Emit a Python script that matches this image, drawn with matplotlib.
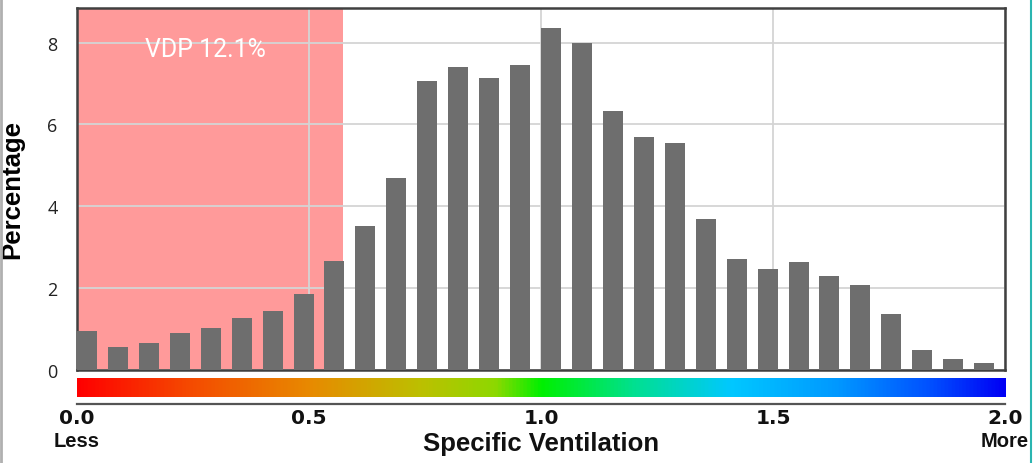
#!/usr/bin/env python3

# Specific ventilation histogram with VDP shading and colour scale.

import matplotlib
matplotlib.use("Agg")
import matplotlib.pyplot as plt
from matplotlib.colors import LinearSegmentedColormap
from matplotlib.lines import Line2D
import numpy as np

# 30 bins of width 2/15 spanning 0.0 - 2.0
bin_lefts = [i * 2.0 / 30 for i in range(30)]
percentages = [0.94, 0.55, 0.66, 0.90, 1.01, 1.25, 1.43, 1.84, 2.65, 3.51,
               4.69, 7.05, 7.40, 7.14, 7.46, 8.36, 7.98, 6.33, 5.69, 5.55,
               3.69, 2.70, 2.47, 2.62, 2.30, 2.06, 1.37, 0.47, 0.26, 0.15]
vdp_limit = 0.573
vdp_label = "VDP 12.1%"
x_ticks = [0.0, 0.5, 1.0, 1.5, 2.0]
x_tick_labels = ["0.0", "0.5", "1.0", "1.5", "2.0"]
y_ticks = [0, 2, 4, 6, 8]

BAR_COLOR = "#6e6e6e"
SPINE_COLOR = "#404040"
GRID_COLOR = "#d4d4d4"

# red -> orange -> yellow -> green -> cyan -> blue
scale = LinearSegmentedColormap.from_list("sv", [
    (0.0, "#ff0000"),
    (0.12, "#f54a00"),
    (0.25, "#e88a00"),
    (0.37, "#bcc000"),
    (0.45, "#8ed800"),
    (0.5, "#00f000"),
    (0.6, "#00e090"),
    (0.705, "#00c8ff"),
    (0.82, "#0098ff"),
    (0.92, "#0050ff"),
    (1.0, "#0000f5"),
])

fig = plt.figure(figsize=(10.35, 4.64), dpi=100)
ax = fig.add_axes([0.0744, 0.2015, 0.8967, 0.7785])

ax.axvspan(0, vdp_limit, color="#ff2020", alpha=0.45, lw=0, zorder=0)
ax.bar(bin_lefts, percentages, width=0.0431, align="edge",
       color=BAR_COLOR, zorder=3)
ax.text(0.276, 7.85, vdp_label, color="white", fontsize=18,
        family="Roboto", ha="center", va="center", zorder=4)

ax.set_xlim(0, 2.0)
ax.set_ylim(0, 8.84)
ax.set_xticks(x_ticks)
ax.set_yticks(y_ticks)
ax.grid(True, color=GRID_COLOR, lw=1.3, zorder=1)
ax.set_axisbelow(True)
ax.tick_params(axis="x", length=0, labelbottom=False)
ax.tick_params(axis="y", length=0, pad=14, labelsize=13, labelcolor="#222222")
ax.set_yticklabels([str(v) for v in y_ticks], family="Open Sans")
for side in ["top", "right", "bottom", "left"]:
    ax.spines[side].set_color(SPINE_COLOR)
    ax.spines[side].set_linewidth(1.8)
ax.set_ylabel("Percentage", fontsize=18.5, fontweight="bold",
              family="Liberation Sans", labelpad=4)
ax.yaxis.set_label_coords(-0.057, 0.5)

# colour scale strip under the histogram
cax = fig.add_axes([0.0744, 0.1422, 0.8967, 0.0409])
# moving the spine resets the ticks, so do it before labelling them
for side in ["top", "right", "left"]:
    cax.spines[side].set_visible(False)
cax.spines["bottom"].set_position(("outward", 5))
cax.spines["bottom"].set_color("#555555")
cax.spines["bottom"].set_linewidth(1.6)

gradient = np.linspace(0, 1, 512).reshape(1, -1)
cax.imshow(gradient, cmap=scale, aspect="auto", extent=[0, 2.0, 0, 1])
cax.set_xlim(0, 2.0)
cax.set_yticks([])
cax.set_xticks(x_ticks)
cax.tick_params(axis="x", length=0, pad=3, labelcolor="#111111")
cax.set_xticklabels(x_tick_labels, fontweight="bold", fontsize=14.5,
                    family="DejaVu Sans")

cax.text(0.0, -2.3, "Less", transform=cax.get_xaxis_transform(),
         ha="center", va="center", fontsize=14.5, fontweight="bold",
         family="Liberation Sans", color="#111111")
cax.text(2.0, -2.3, "More", transform=cax.get_xaxis_transform(),
         ha="center", va="center", fontsize=14.5, fontweight="bold",
         family="Liberation Sans", color="#111111")
fig.text(0.523, 0.043, "Specific Ventilation", ha="center", va="center",
         fontsize=18.5, fontweight="bold", family="Liberation Sans",
         color="#111111")

# frame edges of the original screenshot
fig.add_artist(Line2D([0.001, 0.001], [0, 1], color="#b0b0b0", lw=2,
                      transform=fig.transFigure))
fig.add_artist(Line2D([0.9965, 0.9965], [0, 1], color="#2ab5b0", lw=1.5,
                      transform=fig.transFigure))

fig.savefig("out.png", dpi=100)
